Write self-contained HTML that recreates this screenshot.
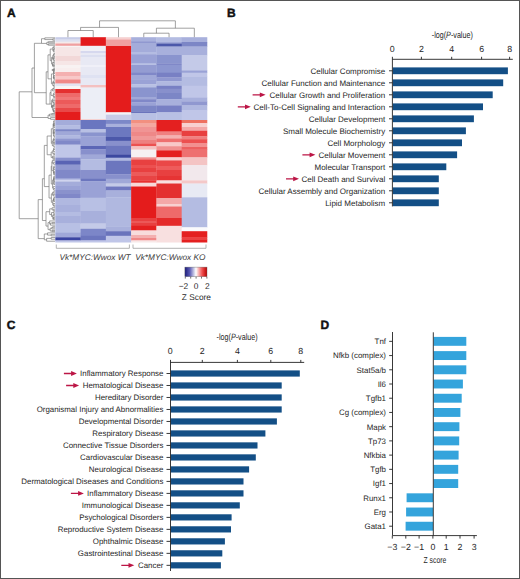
<!DOCTYPE html>
<html><head><meta charset="utf-8"><style>
html,body{margin:0;padding:0;background:#fff;}
body{width:520px;height:579px;overflow:hidden;position:relative;}
svg{position:absolute;left:0;top:0;font-family:'Liberation Sans', sans-serif;}
text{stroke:none;text-rendering:geometricPrecision;}
.frame{position:absolute;left:0;top:0;width:518px;height:577px;border:1px solid #555;}
</style></head><body>
<svg width="520" height="579" viewBox="0 0 520 579">
<g>
<rect x="55.30" y="37.20" width="25.58" height="2.60" fill="#c8cde8"/>
<rect x="55.30" y="39.50" width="25.58" height="2.50" fill="#dde0f0"/>
<rect x="55.30" y="41.70" width="25.58" height="2.10" fill="#f4eaea"/>
<rect x="55.30" y="43.50" width="25.58" height="2.60" fill="#f0a0a0"/>
<rect x="55.30" y="45.80" width="25.58" height="1.50" fill="#f8f4f4"/>
<rect x="55.30" y="47.00" width="25.58" height="9.30" fill="#f6e6e6"/>
<rect x="55.30" y="56.00" width="25.58" height="5.30" fill="#f2d8d8"/>
<rect x="55.30" y="61.00" width="25.58" height="4.30" fill="#f6e6e6"/>
<rect x="55.30" y="65.00" width="25.58" height="3.30" fill="#f8f2f2"/>
<rect x="55.30" y="68.00" width="25.58" height="4.30" fill="#f8eeee"/>
<rect x="55.30" y="72.00" width="25.58" height="4.30" fill="#f4b0b0"/>
<rect x="55.30" y="76.00" width="25.58" height="3.80" fill="#f8c8c8"/>
<rect x="55.30" y="79.50" width="25.58" height="4.30" fill="#f08888"/>
<rect x="55.30" y="83.50" width="25.58" height="3.00" fill="#e4e4f2"/>
<rect x="55.30" y="86.20" width="25.58" height="3.10" fill="#faf4f4"/>
<rect x="55.30" y="89.00" width="25.58" height="4.30" fill="#e43030"/>
<rect x="55.30" y="93.00" width="25.58" height="4.30" fill="#ee6a6a"/>
<rect x="55.30" y="97.00" width="25.58" height="3.30" fill="#f07878"/>
<rect x="55.30" y="100.00" width="25.58" height="4.30" fill="#ec5a5a"/>
<rect x="55.30" y="104.00" width="25.58" height="4.30" fill="#ee6a6a"/>
<rect x="55.30" y="108.00" width="25.58" height="4.30" fill="#e84848"/>
<rect x="55.30" y="112.00" width="25.58" height="8.30" fill="#e41c1c"/>
<rect x="55.30" y="120.00" width="25.58" height="5.70" fill="#a4acda"/>
<rect x="55.30" y="125.40" width="25.58" height="4.10" fill="#b4bce2"/>
<rect x="55.30" y="129.20" width="25.58" height="2.60" fill="#7c86c6"/>
<rect x="55.30" y="131.50" width="25.58" height="4.20" fill="#a0a8d8"/>
<rect x="55.30" y="135.40" width="25.58" height="3.40" fill="#b0b8e0"/>
<rect x="55.30" y="138.50" width="25.58" height="2.60" fill="#9098d0"/>
<rect x="55.30" y="140.80" width="25.58" height="4.10" fill="#8088c8"/>
<rect x="55.30" y="144.60" width="25.58" height="13.40" fill="#c0c6e8"/>
<rect x="55.30" y="157.70" width="25.58" height="3.40" fill="#8890cc"/>
<rect x="55.30" y="160.80" width="25.58" height="4.10" fill="#5a64b4"/>
<rect x="55.30" y="164.60" width="25.58" height="5.30" fill="#9098d0"/>
<rect x="55.30" y="169.60" width="25.58" height="8.70" fill="#8088c8"/>
<rect x="55.30" y="178.00" width="25.58" height="1.90" fill="#9aa2d6"/>
<rect x="55.30" y="179.60" width="25.58" height="2.30" fill="#d0d4ee"/>
<rect x="55.30" y="181.60" width="25.58" height="4.70" fill="#a4acda"/>
<rect x="55.30" y="186.00" width="25.58" height="4.30" fill="#9aa2d6"/>
<rect x="55.30" y="190.00" width="25.58" height="4.30" fill="#8a92cc"/>
<rect x="55.30" y="194.00" width="25.58" height="4.00" fill="#8088c8"/>
<rect x="55.30" y="198.00" width="25.58" height="7.30" fill="#b0b8e0"/>
<rect x="55.30" y="205.00" width="25.58" height="7.30" fill="#a8b0dc"/>
<rect x="55.30" y="212.00" width="25.58" height="4.30" fill="#b4bce2"/>
<rect x="55.30" y="216.00" width="25.58" height="7.80" fill="#a8b0dc"/>
<rect x="55.30" y="223.50" width="25.58" height="9.50" fill="#b8c0e4"/>
<rect x="55.30" y="232.70" width="25.58" height="4.90" fill="#a0a8d8"/>
<rect x="55.30" y="237.30" width="25.58" height="3.40" fill="#3c46a2"/>
<rect x="55.30" y="240.40" width="25.58" height="2.10" fill="#c0c6e8"/>
<rect x="80.58" y="37.20" width="25.58" height="8.90" fill="#e31a1c"/>
<rect x="80.58" y="45.80" width="25.58" height="5.50" fill="#f0f0f6"/>
<rect x="80.58" y="51.00" width="25.58" height="2.30" fill="#d6d8ee"/>
<rect x="80.58" y="53.00" width="25.58" height="2.30" fill="#e8e9f4"/>
<rect x="80.58" y="55.00" width="25.58" height="2.30" fill="#dcdff0"/>
<rect x="80.58" y="57.00" width="25.58" height="8.30" fill="#e8e9f4"/>
<rect x="80.58" y="65.00" width="25.58" height="2.30" fill="#f0f0f8"/>
<rect x="80.58" y="67.00" width="25.58" height="8.30" fill="#e8e9f4"/>
<rect x="80.58" y="75.00" width="25.58" height="3.30" fill="#dfe2f2"/>
<rect x="80.58" y="78.00" width="25.58" height="7.30" fill="#e8e9f4"/>
<rect x="80.58" y="85.00" width="25.58" height="2.80" fill="#f4c0c0"/>
<rect x="80.58" y="87.50" width="25.58" height="31.80" fill="#eceef6"/>
<rect x="80.58" y="119.00" width="25.58" height="1.30" fill="#f4d0d0"/>
<rect x="80.58" y="120.00" width="25.58" height="9.50" fill="#6a76c0"/>
<rect x="80.58" y="129.20" width="25.58" height="3.40" fill="#b8c0e4"/>
<rect x="80.58" y="132.30" width="25.58" height="4.20" fill="#8a94ce"/>
<rect x="80.58" y="136.20" width="25.58" height="10.10" fill="#9aa2d6"/>
<rect x="80.58" y="146.00" width="25.58" height="3.50" fill="#5c66b6"/>
<rect x="80.58" y="149.20" width="25.58" height="5.70" fill="#8890cc"/>
<rect x="80.58" y="154.60" width="25.58" height="4.90" fill="#a0a8d8"/>
<rect x="80.58" y="159.20" width="25.58" height="11.10" fill="#b4bce2"/>
<rect x="80.58" y="170.00" width="25.58" height="9.10" fill="#8890cc"/>
<rect x="80.58" y="178.80" width="25.58" height="2.70" fill="#6c76be"/>
<rect x="80.58" y="181.20" width="25.58" height="16.80" fill="#9aa2d6"/>
<rect x="80.58" y="197.70" width="25.58" height="13.60" fill="#b8c0e4"/>
<rect x="80.58" y="211.00" width="25.58" height="12.80" fill="#a8b0dc"/>
<rect x="80.58" y="223.50" width="25.58" height="5.60" fill="#c4cae8"/>
<rect x="80.58" y="228.80" width="25.58" height="7.30" fill="#7c86c8"/>
<rect x="80.58" y="235.80" width="25.58" height="4.90" fill="#6c76be"/>
<rect x="80.58" y="240.40" width="25.58" height="2.10" fill="#c0c6e8"/>
<rect x="105.86" y="37.20" width="25.58" height="2.60" fill="#f6d0d0"/>
<rect x="105.86" y="39.50" width="25.58" height="6.80" fill="#f0a0a0"/>
<rect x="105.86" y="46.00" width="25.58" height="66.60" fill="#e41c1c"/>
<rect x="105.86" y="112.30" width="25.58" height="2.60" fill="#f4f4f8"/>
<rect x="105.86" y="114.60" width="25.58" height="5.70" fill="#c8cce8"/>
<rect x="105.86" y="120.00" width="25.58" height="4.10" fill="#7c88c8"/>
<rect x="105.86" y="123.80" width="25.58" height="3.50" fill="#a8b0dc"/>
<rect x="105.86" y="127.00" width="25.58" height="10.30" fill="#6c78c0"/>
<rect x="105.86" y="137.00" width="25.58" height="4.10" fill="#4c58aa"/>
<rect x="105.86" y="140.80" width="25.58" height="4.90" fill="#8890cc"/>
<rect x="105.86" y="145.40" width="25.58" height="9.50" fill="#6c76be"/>
<rect x="105.86" y="154.60" width="25.58" height="3.40" fill="#3c48a0"/>
<rect x="105.86" y="157.70" width="25.58" height="3.40" fill="#b0b8e0"/>
<rect x="105.86" y="160.80" width="25.58" height="13.70" fill="#6c76be"/>
<rect x="105.86" y="174.20" width="25.58" height="4.90" fill="#8890cc"/>
<rect x="105.86" y="178.80" width="25.58" height="5.00" fill="#a0a8d8"/>
<rect x="105.86" y="183.50" width="25.58" height="3.30" fill="#c4cae8"/>
<rect x="105.86" y="186.50" width="25.58" height="4.20" fill="#7078c0"/>
<rect x="105.86" y="190.40" width="25.58" height="7.20" fill="#a8b0dc"/>
<rect x="105.86" y="197.30" width="25.58" height="29.50" fill="#b0b8e0"/>
<rect x="105.86" y="226.50" width="25.58" height="5.00" fill="#a8b0dc"/>
<rect x="105.86" y="231.20" width="25.58" height="4.90" fill="#6a74bc"/>
<rect x="105.86" y="235.80" width="25.58" height="6.70" fill="#c0c6e8"/>
<rect x="131.14" y="37.20" width="25.58" height="4.30" fill="#a8b0dc"/>
<rect x="131.14" y="41.20" width="25.58" height="2.60" fill="#9098d0"/>
<rect x="131.14" y="43.50" width="25.58" height="8.80" fill="#a4acda"/>
<rect x="131.14" y="52.00" width="25.58" height="2.50" fill="#b4bce2"/>
<rect x="131.14" y="54.20" width="25.58" height="9.60" fill="#9aa2d6"/>
<rect x="131.14" y="63.50" width="25.58" height="1.80" fill="#b8c0e4"/>
<rect x="131.14" y="65.00" width="25.58" height="8.00" fill="#949cd2"/>
<rect x="131.14" y="72.70" width="25.58" height="2.60" fill="#8088c8"/>
<rect x="131.14" y="75.00" width="25.58" height="4.90" fill="#a0a8d8"/>
<rect x="131.14" y="79.60" width="25.58" height="4.90" fill="#9aa2d6"/>
<rect x="131.14" y="84.20" width="25.58" height="3.40" fill="#b8c0e4"/>
<rect x="131.14" y="87.30" width="25.58" height="6.00" fill="#8a94ce"/>
<rect x="131.14" y="93.00" width="25.58" height="4.30" fill="#8a94ce"/>
<rect x="131.14" y="97.00" width="25.58" height="2.50" fill="#a0a8d8"/>
<rect x="131.14" y="99.20" width="25.58" height="3.40" fill="#8088c8"/>
<rect x="131.14" y="102.30" width="25.58" height="3.40" fill="#9aa2d6"/>
<rect x="131.14" y="105.40" width="25.58" height="6.40" fill="#7c86c6"/>
<rect x="131.14" y="111.50" width="25.58" height="1.80" fill="#6a74bc"/>
<rect x="131.14" y="113.00" width="25.58" height="7.30" fill="#b8c0e4"/>
<rect x="131.14" y="120.00" width="25.58" height="3.30" fill="#f29080"/>
<rect x="131.14" y="123.00" width="25.58" height="4.30" fill="#f4a8a0"/>
<rect x="131.14" y="127.00" width="25.58" height="5.30" fill="#f09494"/>
<rect x="131.14" y="132.00" width="25.58" height="4.30" fill="#ee8888"/>
<rect x="131.14" y="136.00" width="25.58" height="4.30" fill="#f09898"/>
<rect x="131.14" y="140.00" width="25.58" height="4.10" fill="#ee8080"/>
<rect x="131.14" y="143.80" width="25.58" height="2.70" fill="#ec5050"/>
<rect x="131.14" y="146.20" width="25.58" height="3.70" fill="#f6c0c0"/>
<rect x="131.14" y="149.60" width="25.58" height="8.00" fill="#f6f0f2"/>
<rect x="131.14" y="157.30" width="25.58" height="2.60" fill="#f09090"/>
<rect x="131.14" y="159.60" width="25.58" height="5.70" fill="#e84040"/>
<rect x="131.14" y="165.00" width="25.58" height="3.30" fill="#ec5050"/>
<rect x="131.14" y="168.00" width="25.58" height="4.30" fill="#e84040"/>
<rect x="131.14" y="172.00" width="25.58" height="4.30" fill="#ec5a5a"/>
<rect x="131.14" y="176.00" width="25.58" height="4.70" fill="#e84444"/>
<rect x="131.14" y="180.40" width="25.58" height="2.60" fill="#e83030"/>
<rect x="131.14" y="182.70" width="25.58" height="4.10" fill="#f8d8d8"/>
<rect x="131.14" y="186.50" width="25.58" height="31.80" fill="#e41c1c"/>
<rect x="131.14" y="218.00" width="25.58" height="3.30" fill="#e84040"/>
<rect x="131.14" y="221.00" width="25.58" height="2.30" fill="#ec5858"/>
<rect x="131.14" y="223.00" width="25.58" height="3.10" fill="#e84040"/>
<rect x="131.14" y="225.80" width="25.58" height="4.90" fill="#e42020"/>
<rect x="131.14" y="230.40" width="25.58" height="4.90" fill="#f8dcdc"/>
<rect x="131.14" y="235.00" width="25.58" height="3.30" fill="#f4b0b0"/>
<rect x="131.14" y="238.00" width="25.58" height="2.70" fill="#f08888"/>
<rect x="131.14" y="240.40" width="25.58" height="2.10" fill="#f8e8e8"/>
<rect x="156.42" y="37.20" width="25.58" height="5.10" fill="#b4bce2"/>
<rect x="156.42" y="42.00" width="25.58" height="1.80" fill="#a0a8d8"/>
<rect x="156.42" y="43.50" width="25.58" height="3.30" fill="#4c58aa"/>
<rect x="156.42" y="46.50" width="25.58" height="8.80" fill="#a8b0dc"/>
<rect x="156.42" y="55.00" width="25.58" height="8.80" fill="#8a94ce"/>
<rect x="156.42" y="63.50" width="25.58" height="1.80" fill="#8088c8"/>
<rect x="156.42" y="65.00" width="25.58" height="8.00" fill="#8c96d0"/>
<rect x="156.42" y="72.70" width="25.58" height="4.90" fill="#7880c4"/>
<rect x="156.42" y="77.30" width="25.58" height="4.20" fill="#9098d0"/>
<rect x="156.42" y="81.20" width="25.58" height="4.90" fill="#b0b8e0"/>
<rect x="156.42" y="85.80" width="25.58" height="3.30" fill="#7880c4"/>
<rect x="156.42" y="88.80" width="25.58" height="4.50" fill="#8890cc"/>
<rect x="156.42" y="93.00" width="25.58" height="6.50" fill="#7c86c6"/>
<rect x="156.42" y="99.20" width="25.58" height="6.50" fill="#a8b0dc"/>
<rect x="156.42" y="105.40" width="25.58" height="7.20" fill="#7880c4"/>
<rect x="156.42" y="112.30" width="25.58" height="8.00" fill="#b8c0e4"/>
<rect x="156.42" y="120.00" width="25.58" height="11.80" fill="#e42020"/>
<rect x="156.42" y="131.50" width="25.58" height="4.20" fill="#f08080"/>
<rect x="156.42" y="135.40" width="25.58" height="3.40" fill="#f4b0b0"/>
<rect x="156.42" y="138.50" width="25.58" height="4.10" fill="#ee7070"/>
<rect x="156.42" y="142.30" width="25.58" height="4.20" fill="#f8c8c8"/>
<rect x="156.42" y="146.20" width="25.58" height="4.50" fill="#f09090"/>
<rect x="156.42" y="150.40" width="25.58" height="7.20" fill="#e42020"/>
<rect x="156.42" y="157.30" width="25.58" height="3.40" fill="#f8d0d0"/>
<rect x="156.42" y="160.40" width="25.58" height="5.90" fill="#ea4848"/>
<rect x="156.42" y="166.00" width="25.58" height="4.30" fill="#ee5c5c"/>
<rect x="156.42" y="170.00" width="25.58" height="6.30" fill="#e84040"/>
<rect x="156.42" y="176.00" width="25.58" height="4.70" fill="#e63434"/>
<rect x="156.42" y="180.40" width="25.58" height="3.40" fill="#f8e0e0"/>
<rect x="156.42" y="183.50" width="25.58" height="14.80" fill="#e43030"/>
<rect x="156.42" y="198.00" width="25.58" height="6.50" fill="#f4a8a8"/>
<rect x="156.42" y="204.20" width="25.58" height="2.60" fill="#f8d0d0"/>
<rect x="156.42" y="206.50" width="25.58" height="11.80" fill="#ee6a6a"/>
<rect x="156.42" y="218.00" width="25.58" height="8.10" fill="#e42a2a"/>
<rect x="156.42" y="225.80" width="25.58" height="16.70" fill="#f8e0e0"/>
<rect x="181.70" y="37.20" width="25.58" height="5.10" fill="#a8b0dc"/>
<rect x="181.70" y="42.00" width="25.58" height="4.80" fill="#7c86c6"/>
<rect x="181.70" y="46.50" width="25.58" height="8.80" fill="#a8b0dc"/>
<rect x="181.70" y="55.00" width="25.58" height="15.70" fill="#c4cae8"/>
<rect x="181.70" y="70.40" width="25.58" height="2.60" fill="#9aa2d6"/>
<rect x="181.70" y="72.70" width="25.58" height="4.10" fill="#c0c6e8"/>
<rect x="181.70" y="76.50" width="25.58" height="9.60" fill="#b4bce2"/>
<rect x="181.70" y="85.80" width="25.58" height="12.20" fill="#c0c6e8"/>
<rect x="181.70" y="97.70" width="25.58" height="4.10" fill="#a8b0dc"/>
<rect x="181.70" y="101.50" width="25.58" height="4.20" fill="#9098d0"/>
<rect x="181.70" y="105.40" width="25.58" height="4.90" fill="#b0b8e0"/>
<rect x="181.70" y="110.00" width="25.58" height="10.30" fill="#c0c6e8"/>
<rect x="181.70" y="120.00" width="25.58" height="3.30" fill="#ee7060"/>
<rect x="181.70" y="123.00" width="25.58" height="4.30" fill="#f8d0d0"/>
<rect x="181.70" y="127.00" width="25.58" height="4.10" fill="#f4a8a8"/>
<rect x="181.70" y="130.80" width="25.58" height="5.70" fill="#e84040"/>
<rect x="181.70" y="136.20" width="25.58" height="3.30" fill="#f08080"/>
<rect x="181.70" y="139.20" width="25.58" height="4.10" fill="#ec5050"/>
<rect x="181.70" y="143.00" width="25.58" height="4.30" fill="#f29090"/>
<rect x="181.70" y="147.00" width="25.58" height="2.90" fill="#ec6060"/>
<rect x="181.70" y="149.60" width="25.58" height="8.00" fill="#ee7070"/>
<rect x="181.70" y="157.30" width="25.58" height="8.00" fill="#f4c4c4"/>
<rect x="181.70" y="165.00" width="25.58" height="15.70" fill="#f2e8ec"/>
<rect x="181.70" y="180.40" width="25.58" height="3.40" fill="#f4c8c8"/>
<rect x="181.70" y="183.50" width="25.58" height="14.10" fill="#e8eaf4"/>
<rect x="181.70" y="197.30" width="25.58" height="30.30" fill="#b4bce2"/>
<rect x="181.70" y="227.30" width="25.58" height="4.20" fill="#fafafc"/>
<rect x="181.70" y="231.20" width="25.58" height="6.60" fill="#e42020"/>
<rect x="181.70" y="237.50" width="25.58" height="2.30" fill="#ee4040"/>
<rect x="181.70" y="239.50" width="25.58" height="3.00" fill="#e42020"/>
</g>
<g stroke="#7a7a7a" stroke-width="0.7" fill="none">
<line x1="67.94" y1="37.20" x2="67.94" y2="30.50"/>
<line x1="93.22" y1="37.20" x2="93.22" y2="30.50"/>
<line x1="67.94" y1="30.50" x2="93.22" y2="30.50"/>
<line x1="80.58" y1="30.50" x2="80.58" y2="27.40"/>
<line x1="118.50" y1="37.20" x2="118.50" y2="27.40"/>
<line x1="80.58" y1="27.40" x2="118.50" y2="27.40"/>
<line x1="99.54" y1="27.40" x2="99.54" y2="20.80"/>
<line x1="143.78" y1="37.20" x2="143.78" y2="33.20"/>
<line x1="169.06" y1="37.20" x2="169.06" y2="33.20"/>
<line x1="143.78" y1="33.20" x2="169.06" y2="33.20"/>
<line x1="156.42" y1="33.20" x2="156.42" y2="28.20"/>
<line x1="194.34" y1="37.20" x2="194.34" y2="28.20"/>
<line x1="156.42" y1="28.20" x2="194.34" y2="28.20"/>
<line x1="175.38" y1="28.20" x2="175.38" y2="20.80"/>
<line x1="99.54" y1="20.80" x2="175.38" y2="20.80"/>
<line x1="52.77" y1="38.92" x2="52.77" y2="40.24"/>
<line x1="52.77" y1="38.92" x2="55.00" y2="38.92"/>
<line x1="52.77" y1="40.24" x2="55.00" y2="40.24"/>
<line x1="44.81" y1="37.85" x2="44.81" y2="39.58"/>
<line x1="44.81" y1="37.85" x2="55.00" y2="37.85"/>
<line x1="44.81" y1="39.58" x2="52.77" y2="39.58"/>
<line x1="48.32" y1="41.68" x2="48.32" y2="42.83"/>
<line x1="48.32" y1="41.68" x2="55.00" y2="41.68"/>
<line x1="48.32" y1="42.83" x2="55.00" y2="42.83"/>
<line x1="48.39" y1="43.94" x2="48.39" y2="45.22"/>
<line x1="48.39" y1="43.94" x2="55.00" y2="43.94"/>
<line x1="48.39" y1="45.22" x2="55.00" y2="45.22"/>
<line x1="46.84" y1="42.25" x2="46.84" y2="44.58"/>
<line x1="46.84" y1="42.25" x2="48.32" y2="42.25"/>
<line x1="46.84" y1="44.58" x2="48.39" y2="44.58"/>
<line x1="41.50" y1="38.71" x2="41.50" y2="43.41"/>
<line x1="41.50" y1="38.71" x2="44.81" y2="38.71"/>
<line x1="41.50" y1="43.41" x2="46.84" y2="43.41"/>
<line x1="53.24" y1="46.77" x2="53.24" y2="47.99"/>
<line x1="53.24" y1="46.77" x2="55.00" y2="46.77"/>
<line x1="53.24" y1="47.99" x2="55.00" y2="47.99"/>
<line x1="53.80" y1="48.84" x2="53.80" y2="50.06"/>
<line x1="53.80" y1="48.84" x2="55.00" y2="48.84"/>
<line x1="53.80" y1="50.06" x2="55.00" y2="50.06"/>
<line x1="53.43" y1="49.45" x2="53.43" y2="51.86"/>
<line x1="53.43" y1="49.45" x2="53.80" y2="49.45"/>
<line x1="53.43" y1="51.86" x2="55.00" y2="51.86"/>
<line x1="52.79" y1="47.38" x2="52.79" y2="50.65"/>
<line x1="52.79" y1="47.38" x2="53.24" y2="47.38"/>
<line x1="52.79" y1="50.65" x2="53.43" y2="50.65"/>
<line x1="53.80" y1="53.57" x2="53.80" y2="54.94"/>
<line x1="53.80" y1="53.57" x2="55.00" y2="53.57"/>
<line x1="53.80" y1="54.94" x2="55.00" y2="54.94"/>
<line x1="53.54" y1="54.25" x2="53.54" y2="56.45"/>
<line x1="53.54" y1="54.25" x2="53.80" y2="54.25"/>
<line x1="53.54" y1="56.45" x2="55.00" y2="56.45"/>
<line x1="52.92" y1="57.70" x2="52.92" y2="58.85"/>
<line x1="52.92" y1="57.70" x2="55.00" y2="57.70"/>
<line x1="52.92" y1="58.85" x2="55.00" y2="58.85"/>
<line x1="53.39" y1="58.28" x2="53.39" y2="60.40"/>
<line x1="53.39" y1="58.28" x2="52.92" y2="58.28"/>
<line x1="53.39" y1="60.40" x2="55.00" y2="60.40"/>
<line x1="52.74" y1="55.35" x2="52.74" y2="59.34"/>
<line x1="52.74" y1="55.35" x2="53.54" y2="55.35"/>
<line x1="52.74" y1="59.34" x2="53.39" y2="59.34"/>
<line x1="53.47" y1="61.84" x2="53.47" y2="62.96"/>
<line x1="53.47" y1="61.84" x2="55.00" y2="61.84"/>
<line x1="53.47" y1="62.96" x2="55.00" y2="62.96"/>
<line x1="52.87" y1="64.15" x2="52.87" y2="65.45"/>
<line x1="52.87" y1="64.15" x2="55.00" y2="64.15"/>
<line x1="52.87" y1="65.45" x2="55.00" y2="65.45"/>
<line x1="52.98" y1="64.80" x2="52.98" y2="66.75"/>
<line x1="52.98" y1="64.80" x2="52.87" y2="64.80"/>
<line x1="52.98" y1="66.75" x2="55.00" y2="66.75"/>
<line x1="52.57" y1="62.40" x2="52.57" y2="65.77"/>
<line x1="52.57" y1="62.40" x2="53.47" y2="62.40"/>
<line x1="52.57" y1="65.77" x2="52.98" y2="65.77"/>
<line x1="51.57" y1="57.35" x2="51.57" y2="64.09"/>
<line x1="51.57" y1="57.35" x2="52.74" y2="57.35"/>
<line x1="51.57" y1="64.09" x2="52.57" y2="64.09"/>
<line x1="50.23" y1="49.02" x2="50.23" y2="60.72"/>
<line x1="50.23" y1="49.02" x2="52.79" y2="49.02"/>
<line x1="50.23" y1="60.72" x2="51.57" y2="60.72"/>
<line x1="52.16" y1="69.43" x2="52.16" y2="70.58"/>
<line x1="52.16" y1="69.43" x2="55.00" y2="69.43"/>
<line x1="52.16" y1="70.58" x2="55.00" y2="70.58"/>
<line x1="53.80" y1="68.26" x2="53.80" y2="70.01"/>
<line x1="53.80" y1="68.26" x2="55.00" y2="68.26"/>
<line x1="53.80" y1="70.01" x2="52.16" y2="70.01"/>
<line x1="53.80" y1="71.92" x2="53.80" y2="73.47"/>
<line x1="53.80" y1="71.92" x2="55.00" y2="71.92"/>
<line x1="53.80" y1="73.47" x2="55.00" y2="73.47"/>
<line x1="53.76" y1="69.13" x2="53.76" y2="72.69"/>
<line x1="53.76" y1="69.13" x2="53.80" y2="69.13"/>
<line x1="53.76" y1="72.69" x2="53.80" y2="72.69"/>
<line x1="53.34" y1="76.97" x2="53.34" y2="78.11"/>
<line x1="53.34" y1="76.97" x2="55.00" y2="76.97"/>
<line x1="53.34" y1="78.11" x2="55.00" y2="78.11"/>
<line x1="53.80" y1="77.54" x2="53.80" y2="79.27"/>
<line x1="53.80" y1="77.54" x2="53.34" y2="77.54"/>
<line x1="53.80" y1="79.27" x2="55.00" y2="79.27"/>
<line x1="53.80" y1="75.43" x2="53.80" y2="78.40"/>
<line x1="53.80" y1="75.43" x2="55.00" y2="75.43"/>
<line x1="53.80" y1="78.40" x2="53.80" y2="78.40"/>
<line x1="53.49" y1="70.91" x2="53.49" y2="76.92"/>
<line x1="53.49" y1="70.91" x2="53.76" y2="70.91"/>
<line x1="53.49" y1="76.92" x2="53.80" y2="76.92"/>
<line x1="53.80" y1="82.38" x2="53.80" y2="83.66"/>
<line x1="53.80" y1="82.38" x2="55.00" y2="82.38"/>
<line x1="53.80" y1="83.66" x2="55.00" y2="83.66"/>
<line x1="53.36" y1="80.90" x2="53.36" y2="83.02"/>
<line x1="53.36" y1="80.90" x2="55.00" y2="80.90"/>
<line x1="53.36" y1="83.02" x2="53.80" y2="83.02"/>
<line x1="53.50" y1="84.97" x2="53.50" y2="86.23"/>
<line x1="53.50" y1="84.97" x2="55.00" y2="84.97"/>
<line x1="53.50" y1="86.23" x2="55.00" y2="86.23"/>
<line x1="52.74" y1="81.96" x2="52.74" y2="85.60"/>
<line x1="52.74" y1="81.96" x2="53.36" y2="81.96"/>
<line x1="52.74" y1="85.60" x2="53.50" y2="85.60"/>
<line x1="51.45" y1="73.92" x2="51.45" y2="83.78"/>
<line x1="51.45" y1="73.92" x2="53.49" y2="73.92"/>
<line x1="51.45" y1="83.78" x2="52.74" y2="83.78"/>
<line x1="48.00" y1="54.87" x2="48.00" y2="78.85"/>
<line x1="48.00" y1="54.87" x2="50.23" y2="54.87"/>
<line x1="48.00" y1="78.85" x2="51.45" y2="78.85"/>
<line x1="53.53" y1="87.82" x2="53.53" y2="89.26"/>
<line x1="53.53" y1="87.82" x2="55.00" y2="87.82"/>
<line x1="53.53" y1="89.26" x2="55.00" y2="89.26"/>
<line x1="52.62" y1="88.54" x2="52.62" y2="90.93"/>
<line x1="52.62" y1="88.54" x2="53.53" y2="88.54"/>
<line x1="52.62" y1="90.93" x2="55.00" y2="90.93"/>
<line x1="53.80" y1="92.85" x2="53.80" y2="94.74"/>
<line x1="53.80" y1="92.85" x2="55.00" y2="92.85"/>
<line x1="53.80" y1="94.74" x2="55.00" y2="94.74"/>
<line x1="53.80" y1="96.42" x2="53.80" y2="97.62"/>
<line x1="53.80" y1="96.42" x2="55.00" y2="96.42"/>
<line x1="53.80" y1="97.62" x2="55.00" y2="97.62"/>
<line x1="53.32" y1="93.79" x2="53.32" y2="97.02"/>
<line x1="53.32" y1="93.79" x2="53.80" y2="93.79"/>
<line x1="53.32" y1="97.02" x2="53.80" y2="97.02"/>
<line x1="51.01" y1="89.74" x2="51.01" y2="95.41"/>
<line x1="51.01" y1="89.74" x2="52.62" y2="89.74"/>
<line x1="51.01" y1="95.41" x2="53.32" y2="95.41"/>
<line x1="53.45" y1="102.12" x2="53.45" y2="103.40"/>
<line x1="53.45" y1="102.12" x2="55.00" y2="102.12"/>
<line x1="53.45" y1="103.40" x2="55.00" y2="103.40"/>
<line x1="52.95" y1="100.64" x2="52.95" y2="102.76"/>
<line x1="52.95" y1="100.64" x2="55.00" y2="100.64"/>
<line x1="52.95" y1="102.76" x2="53.45" y2="102.76"/>
<line x1="52.38" y1="99.06" x2="52.38" y2="101.70"/>
<line x1="52.38" y1="99.06" x2="55.00" y2="99.06"/>
<line x1="52.38" y1="101.70" x2="52.95" y2="101.70"/>
<line x1="51.51" y1="105.71" x2="51.51" y2="106.90"/>
<line x1="51.51" y1="105.71" x2="55.00" y2="105.71"/>
<line x1="51.51" y1="106.90" x2="55.00" y2="106.90"/>
<line x1="53.37" y1="104.49" x2="53.37" y2="106.30"/>
<line x1="53.37" y1="104.49" x2="55.00" y2="104.49"/>
<line x1="53.37" y1="106.30" x2="51.51" y2="106.30"/>
<line x1="53.18" y1="110.16" x2="53.18" y2="111.30"/>
<line x1="53.18" y1="110.16" x2="55.00" y2="110.16"/>
<line x1="53.18" y1="111.30" x2="55.00" y2="111.30"/>
<line x1="53.80" y1="110.73" x2="53.80" y2="112.33"/>
<line x1="53.80" y1="110.73" x2="53.18" y2="110.73"/>
<line x1="53.80" y1="112.33" x2="55.00" y2="112.33"/>
<line x1="53.39" y1="108.45" x2="53.39" y2="111.53"/>
<line x1="53.39" y1="108.45" x2="55.00" y2="108.45"/>
<line x1="53.39" y1="111.53" x2="53.80" y2="111.53"/>
<line x1="52.65" y1="105.39" x2="52.65" y2="109.99"/>
<line x1="52.65" y1="105.39" x2="53.37" y2="105.39"/>
<line x1="52.65" y1="109.99" x2="53.39" y2="109.99"/>
<line x1="51.63" y1="100.38" x2="51.63" y2="107.69"/>
<line x1="51.63" y1="100.38" x2="52.38" y2="100.38"/>
<line x1="51.63" y1="107.69" x2="52.65" y2="107.69"/>
<line x1="50.00" y1="92.57" x2="50.00" y2="104.10"/>
<line x1="50.00" y1="92.57" x2="51.01" y2="92.57"/>
<line x1="50.00" y1="104.04" x2="51.63" y2="104.04"/>
<line x1="46.20" y1="71.80" x2="46.20" y2="104.10"/>
<line x1="46.20" y1="71.80" x2="48.00" y2="71.80"/>
<line x1="46.20" y1="104.10" x2="50.00" y2="104.10"/>
<line x1="51.77" y1="113.50" x2="51.77" y2="114.74"/>
<line x1="51.77" y1="113.50" x2="55.00" y2="113.50"/>
<line x1="51.77" y1="114.74" x2="55.00" y2="114.74"/>
<line x1="49.54" y1="114.12" x2="49.54" y2="116.04"/>
<line x1="49.54" y1="114.12" x2="51.77" y2="114.12"/>
<line x1="49.54" y1="116.04" x2="55.00" y2="116.04"/>
<line x1="50.57" y1="117.63" x2="50.57" y2="119.33"/>
<line x1="50.57" y1="117.63" x2="55.00" y2="117.63"/>
<line x1="50.57" y1="119.33" x2="55.00" y2="119.33"/>
<line x1="48.10" y1="115.08" x2="48.10" y2="118.48"/>
<line x1="48.10" y1="115.08" x2="49.54" y2="115.08"/>
<line x1="48.10" y1="118.48" x2="50.57" y2="118.48"/>
<line x1="34.40" y1="43.30" x2="34.40" y2="92.70"/>
<line x1="34.40" y1="43.30" x2="41.50" y2="43.30"/>
<line x1="34.40" y1="92.70" x2="46.20" y2="92.70"/>
<line x1="32.00" y1="68.00" x2="32.00" y2="117.50"/>
<line x1="32.00" y1="68.00" x2="34.40" y2="68.00"/>
<line x1="32.00" y1="117.50" x2="48.10" y2="117.50"/>
<line x1="53.80" y1="120.77" x2="53.80" y2="122.12"/>
<line x1="53.80" y1="120.77" x2="55.00" y2="120.77"/>
<line x1="53.80" y1="122.12" x2="55.00" y2="122.12"/>
<line x1="53.80" y1="124.89" x2="53.80" y2="126.00"/>
<line x1="53.80" y1="124.89" x2="55.00" y2="124.89"/>
<line x1="53.80" y1="126.00" x2="55.00" y2="126.00"/>
<line x1="53.80" y1="123.58" x2="53.80" y2="125.44"/>
<line x1="53.80" y1="123.58" x2="55.00" y2="123.58"/>
<line x1="53.80" y1="125.44" x2="53.80" y2="125.44"/>
<line x1="53.80" y1="124.51" x2="53.80" y2="127.66"/>
<line x1="53.80" y1="124.51" x2="53.80" y2="124.51"/>
<line x1="53.80" y1="127.66" x2="55.00" y2="127.66"/>
<line x1="53.70" y1="121.44" x2="53.70" y2="126.08"/>
<line x1="53.70" y1="121.44" x2="53.80" y2="121.44"/>
<line x1="53.70" y1="126.08" x2="53.80" y2="126.08"/>
<line x1="53.80" y1="129.50" x2="53.80" y2="131.05"/>
<line x1="53.80" y1="129.50" x2="55.00" y2="129.50"/>
<line x1="53.80" y1="131.05" x2="55.00" y2="131.05"/>
<line x1="53.80" y1="132.45" x2="53.80" y2="133.67"/>
<line x1="53.80" y1="132.45" x2="55.00" y2="132.45"/>
<line x1="53.80" y1="133.67" x2="55.00" y2="133.67"/>
<line x1="53.80" y1="130.27" x2="53.80" y2="133.06"/>
<line x1="53.80" y1="130.27" x2="53.80" y2="130.27"/>
<line x1="53.80" y1="133.06" x2="53.80" y2="133.06"/>
<line x1="53.80" y1="135.03" x2="53.80" y2="136.45"/>
<line x1="53.80" y1="135.03" x2="55.00" y2="135.03"/>
<line x1="53.80" y1="136.45" x2="55.00" y2="136.45"/>
<line x1="53.42" y1="131.67" x2="53.42" y2="135.74"/>
<line x1="53.42" y1="131.67" x2="53.80" y2="131.67"/>
<line x1="53.42" y1="135.74" x2="53.80" y2="135.74"/>
<line x1="53.11" y1="123.76" x2="53.11" y2="133.71"/>
<line x1="53.11" y1="123.76" x2="53.70" y2="123.76"/>
<line x1="53.11" y1="133.71" x2="53.42" y2="133.71"/>
<line x1="53.80" y1="139.61" x2="53.80" y2="141.14"/>
<line x1="53.80" y1="139.61" x2="55.00" y2="139.61"/>
<line x1="53.80" y1="141.14" x2="55.00" y2="141.14"/>
<line x1="53.80" y1="137.83" x2="53.80" y2="140.38"/>
<line x1="53.80" y1="137.83" x2="55.00" y2="137.83"/>
<line x1="53.80" y1="140.38" x2="53.80" y2="140.38"/>
<line x1="53.58" y1="142.50" x2="53.58" y2="143.61"/>
<line x1="53.58" y1="142.50" x2="55.00" y2="142.50"/>
<line x1="53.58" y1="143.61" x2="55.00" y2="143.61"/>
<line x1="53.16" y1="139.10" x2="53.16" y2="143.06"/>
<line x1="53.16" y1="139.10" x2="53.80" y2="139.10"/>
<line x1="53.16" y1="143.06" x2="53.58" y2="143.06"/>
<line x1="53.17" y1="144.77" x2="53.17" y2="146.35"/>
<line x1="53.17" y1="144.77" x2="55.00" y2="144.77"/>
<line x1="53.17" y1="146.35" x2="55.00" y2="146.35"/>
<line x1="52.26" y1="141.08" x2="52.26" y2="145.56"/>
<line x1="52.26" y1="141.08" x2="53.16" y2="141.08"/>
<line x1="52.26" y1="145.56" x2="53.17" y2="145.56"/>
<line x1="51.34" y1="128.73" x2="51.34" y2="143.32"/>
<line x1="51.34" y1="128.73" x2="53.11" y2="128.73"/>
<line x1="51.34" y1="143.32" x2="52.26" y2="143.32"/>
<line x1="53.80" y1="147.83" x2="53.80" y2="149.58"/>
<line x1="53.80" y1="147.83" x2="55.00" y2="147.83"/>
<line x1="53.80" y1="149.58" x2="55.00" y2="149.58"/>
<line x1="53.60" y1="148.70" x2="53.60" y2="151.62"/>
<line x1="53.60" y1="148.70" x2="53.80" y2="148.70"/>
<line x1="53.60" y1="151.62" x2="55.00" y2="151.62"/>
<line x1="53.80" y1="153.19" x2="53.80" y2="154.53"/>
<line x1="53.80" y1="153.19" x2="55.00" y2="153.19"/>
<line x1="53.80" y1="154.53" x2="55.00" y2="154.53"/>
<line x1="52.87" y1="150.16" x2="52.87" y2="153.86"/>
<line x1="52.87" y1="150.16" x2="53.60" y2="150.16"/>
<line x1="52.87" y1="153.86" x2="53.80" y2="153.86"/>
<line x1="52.79" y1="155.99" x2="52.79" y2="157.23"/>
<line x1="52.79" y1="155.99" x2="55.00" y2="155.99"/>
<line x1="52.79" y1="157.23" x2="55.00" y2="157.23"/>
<line x1="52.66" y1="156.61" x2="52.66" y2="158.43"/>
<line x1="52.66" y1="156.61" x2="52.79" y2="156.61"/>
<line x1="52.66" y1="158.43" x2="55.00" y2="158.43"/>
<line x1="51.18" y1="152.01" x2="51.18" y2="157.52"/>
<line x1="51.18" y1="152.01" x2="52.87" y2="152.01"/>
<line x1="51.18" y1="157.52" x2="52.66" y2="157.52"/>
<line x1="47.16" y1="136.03" x2="47.16" y2="154.76"/>
<line x1="47.16" y1="136.03" x2="51.34" y2="136.03"/>
<line x1="47.16" y1="154.76" x2="51.18" y2="154.76"/>
<line x1="53.31" y1="159.64" x2="53.31" y2="160.76"/>
<line x1="53.31" y1="159.64" x2="55.00" y2="159.64"/>
<line x1="53.31" y1="160.76" x2="55.00" y2="160.76"/>
<line x1="53.61" y1="162.30" x2="53.61" y2="164.22"/>
<line x1="53.61" y1="162.30" x2="55.00" y2="162.30"/>
<line x1="53.61" y1="164.22" x2="55.00" y2="164.22"/>
<line x1="52.35" y1="160.20" x2="52.35" y2="163.26"/>
<line x1="52.35" y1="160.20" x2="53.31" y2="160.20"/>
<line x1="52.35" y1="163.26" x2="53.61" y2="163.26"/>
<line x1="53.80" y1="166.12" x2="53.80" y2="167.75"/>
<line x1="53.80" y1="166.12" x2="55.00" y2="166.12"/>
<line x1="53.80" y1="167.75" x2="55.00" y2="167.75"/>
<line x1="53.80" y1="166.93" x2="53.80" y2="169.44"/>
<line x1="53.80" y1="166.93" x2="53.80" y2="166.93"/>
<line x1="53.80" y1="169.44" x2="55.00" y2="169.44"/>
<line x1="53.80" y1="171.25" x2="53.80" y2="172.58"/>
<line x1="53.80" y1="171.25" x2="55.00" y2="171.25"/>
<line x1="53.80" y1="172.58" x2="55.00" y2="172.58"/>
<line x1="53.80" y1="173.68" x2="53.80" y2="174.78"/>
<line x1="53.80" y1="173.68" x2="55.00" y2="173.68"/>
<line x1="53.80" y1="174.78" x2="55.00" y2="174.78"/>
<line x1="53.80" y1="171.91" x2="53.80" y2="174.23"/>
<line x1="53.80" y1="171.91" x2="53.80" y2="171.91"/>
<line x1="53.80" y1="174.23" x2="53.80" y2="174.23"/>
<line x1="53.47" y1="168.19" x2="53.47" y2="173.07"/>
<line x1="53.47" y1="168.19" x2="53.80" y2="168.19"/>
<line x1="53.47" y1="173.07" x2="53.80" y2="173.07"/>
<line x1="51.87" y1="161.73" x2="51.87" y2="170.63"/>
<line x1="51.87" y1="161.73" x2="52.35" y2="161.73"/>
<line x1="51.87" y1="170.63" x2="53.47" y2="170.63"/>
<line x1="53.35" y1="179.04" x2="53.35" y2="180.19"/>
<line x1="53.35" y1="179.04" x2="55.00" y2="179.04"/>
<line x1="53.35" y1="180.19" x2="55.00" y2="180.19"/>
<line x1="53.80" y1="177.81" x2="53.80" y2="179.62"/>
<line x1="53.80" y1="177.81" x2="55.00" y2="177.81"/>
<line x1="53.80" y1="179.62" x2="53.35" y2="179.62"/>
<line x1="53.80" y1="176.30" x2="53.80" y2="178.71"/>
<line x1="53.80" y1="176.30" x2="55.00" y2="176.30"/>
<line x1="53.80" y1="178.71" x2="53.80" y2="178.71"/>
<line x1="53.80" y1="183.01" x2="53.80" y2="184.56"/>
<line x1="53.80" y1="183.01" x2="55.00" y2="183.01"/>
<line x1="53.80" y1="184.56" x2="55.00" y2="184.56"/>
<line x1="53.80" y1="181.57" x2="53.80" y2="183.78"/>
<line x1="53.80" y1="181.57" x2="55.00" y2="181.57"/>
<line x1="53.80" y1="183.78" x2="53.80" y2="183.78"/>
<line x1="53.80" y1="177.50" x2="53.80" y2="182.68"/>
<line x1="53.80" y1="177.50" x2="53.80" y2="177.50"/>
<line x1="53.80" y1="182.68" x2="53.80" y2="182.68"/>
<line x1="53.80" y1="188.51" x2="53.80" y2="190.19"/>
<line x1="53.80" y1="188.51" x2="55.00" y2="188.51"/>
<line x1="53.80" y1="190.19" x2="55.00" y2="190.19"/>
<line x1="53.22" y1="186.62" x2="53.22" y2="189.35"/>
<line x1="53.22" y1="186.62" x2="55.00" y2="186.62"/>
<line x1="53.22" y1="189.35" x2="53.80" y2="189.35"/>
<line x1="52.58" y1="180.09" x2="52.58" y2="187.99"/>
<line x1="52.58" y1="180.09" x2="53.80" y2="180.09"/>
<line x1="52.58" y1="187.99" x2="53.22" y2="187.99"/>
<line x1="51.28" y1="166.18" x2="51.28" y2="184.04"/>
<line x1="51.28" y1="166.18" x2="51.87" y2="166.18"/>
<line x1="51.28" y1="184.04" x2="52.58" y2="184.04"/>
<line x1="53.18" y1="191.78" x2="53.18" y2="193.05"/>
<line x1="53.18" y1="191.78" x2="55.00" y2="191.78"/>
<line x1="53.18" y1="193.05" x2="55.00" y2="193.05"/>
<line x1="53.31" y1="194.36" x2="53.31" y2="196.00"/>
<line x1="53.31" y1="194.36" x2="55.00" y2="194.36"/>
<line x1="53.31" y1="196.00" x2="55.00" y2="196.00"/>
<line x1="52.62" y1="192.42" x2="52.62" y2="195.18"/>
<line x1="52.62" y1="192.42" x2="53.18" y2="192.42"/>
<line x1="52.62" y1="195.18" x2="53.31" y2="195.18"/>
<line x1="53.42" y1="198.96" x2="53.42" y2="200.23"/>
<line x1="53.42" y1="198.96" x2="55.00" y2="198.96"/>
<line x1="53.42" y1="200.23" x2="55.00" y2="200.23"/>
<line x1="53.80" y1="197.52" x2="53.80" y2="199.60"/>
<line x1="53.80" y1="197.52" x2="55.00" y2="197.52"/>
<line x1="53.80" y1="199.60" x2="53.42" y2="199.60"/>
<line x1="53.61" y1="198.56" x2="53.61" y2="201.58"/>
<line x1="53.61" y1="198.56" x2="53.80" y2="198.56"/>
<line x1="53.61" y1="201.58" x2="55.00" y2="201.58"/>
<line x1="53.80" y1="205.06" x2="53.80" y2="206.28"/>
<line x1="53.80" y1="205.06" x2="55.00" y2="205.06"/>
<line x1="53.80" y1="206.28" x2="55.00" y2="206.28"/>
<line x1="53.15" y1="203.50" x2="53.15" y2="205.67"/>
<line x1="53.15" y1="203.50" x2="55.00" y2="203.50"/>
<line x1="53.15" y1="205.67" x2="53.80" y2="205.67"/>
<line x1="52.75" y1="200.07" x2="52.75" y2="204.59"/>
<line x1="52.75" y1="200.07" x2="53.61" y2="200.07"/>
<line x1="52.75" y1="204.59" x2="53.15" y2="204.59"/>
<line x1="51.36" y1="193.80" x2="51.36" y2="202.33"/>
<line x1="51.36" y1="193.80" x2="52.62" y2="193.80"/>
<line x1="51.36" y1="202.33" x2="52.75" y2="202.33"/>
<line x1="49.04" y1="175.11" x2="49.04" y2="198.06"/>
<line x1="49.04" y1="175.11" x2="51.28" y2="175.11"/>
<line x1="49.04" y1="198.06" x2="51.36" y2="198.06"/>
<line x1="44.30" y1="145.40" x2="44.30" y2="186.59"/>
<line x1="44.30" y1="145.40" x2="47.16" y2="145.40"/>
<line x1="44.30" y1="186.59" x2="49.04" y2="186.59"/>
<line x1="53.38" y1="209.26" x2="53.38" y2="210.67"/>
<line x1="53.38" y1="209.26" x2="55.00" y2="209.26"/>
<line x1="53.38" y1="210.67" x2="55.00" y2="210.67"/>
<line x1="52.13" y1="207.69" x2="52.13" y2="209.97"/>
<line x1="52.13" y1="207.69" x2="55.00" y2="207.69"/>
<line x1="52.13" y1="209.97" x2="53.38" y2="209.97"/>
<line x1="53.39" y1="211.84" x2="53.39" y2="213.28"/>
<line x1="53.39" y1="211.84" x2="55.00" y2="211.84"/>
<line x1="53.39" y1="213.28" x2="55.00" y2="213.28"/>
<line x1="53.21" y1="214.57" x2="53.21" y2="215.78"/>
<line x1="53.21" y1="214.57" x2="55.00" y2="214.57"/>
<line x1="53.21" y1="215.78" x2="55.00" y2="215.78"/>
<line x1="52.88" y1="218.14" x2="52.88" y2="219.34"/>
<line x1="52.88" y1="218.14" x2="55.00" y2="218.14"/>
<line x1="52.88" y1="219.34" x2="55.00" y2="219.34"/>
<line x1="53.62" y1="217.07" x2="53.62" y2="218.74"/>
<line x1="53.62" y1="217.07" x2="55.00" y2="217.07"/>
<line x1="53.62" y1="218.74" x2="52.88" y2="218.74"/>
<line x1="52.74" y1="215.17" x2="52.74" y2="217.91"/>
<line x1="52.74" y1="215.17" x2="53.21" y2="215.17"/>
<line x1="52.74" y1="217.91" x2="53.62" y2="217.91"/>
<line x1="51.50" y1="212.56" x2="51.50" y2="216.54"/>
<line x1="51.50" y1="212.56" x2="53.39" y2="212.56"/>
<line x1="51.50" y1="216.54" x2="52.74" y2="216.54"/>
<line x1="49.69" y1="208.83" x2="49.69" y2="214.55"/>
<line x1="49.69" y1="208.83" x2="52.13" y2="208.83"/>
<line x1="49.69" y1="214.55" x2="51.50" y2="214.55"/>
<line x1="52.28" y1="222.47" x2="52.28" y2="223.70"/>
<line x1="52.28" y1="222.47" x2="55.00" y2="222.47"/>
<line x1="52.28" y1="223.70" x2="55.00" y2="223.70"/>
<line x1="50.48" y1="223.09" x2="50.48" y2="225.17"/>
<line x1="50.48" y1="223.09" x2="52.28" y2="223.09"/>
<line x1="50.48" y1="225.17" x2="55.00" y2="225.17"/>
<line x1="49.64" y1="220.95" x2="49.64" y2="224.13"/>
<line x1="49.64" y1="220.95" x2="55.00" y2="220.95"/>
<line x1="49.64" y1="224.13" x2="50.48" y2="224.13"/>
<line x1="52.71" y1="226.70" x2="52.71" y2="227.89"/>
<line x1="52.71" y1="226.70" x2="55.00" y2="226.70"/>
<line x1="52.71" y1="227.89" x2="55.00" y2="227.89"/>
<line x1="51.84" y1="227.29" x2="51.84" y2="229.08"/>
<line x1="51.84" y1="227.29" x2="52.71" y2="227.29"/>
<line x1="51.84" y1="229.08" x2="55.00" y2="229.08"/>
<line x1="51.97" y1="230.48" x2="51.97" y2="231.59"/>
<line x1="51.97" y1="230.48" x2="55.00" y2="230.48"/>
<line x1="51.97" y1="231.59" x2="55.00" y2="231.59"/>
<line x1="50.17" y1="228.19" x2="50.17" y2="231.03"/>
<line x1="50.17" y1="228.19" x2="51.84" y2="228.19"/>
<line x1="50.17" y1="231.03" x2="51.97" y2="231.03"/>
<line x1="48.04" y1="222.54" x2="48.04" y2="229.61"/>
<line x1="48.04" y1="222.54" x2="49.64" y2="222.54"/>
<line x1="48.04" y1="229.61" x2="50.17" y2="229.61"/>
<line x1="46.00" y1="211.69" x2="46.00" y2="226.08"/>
<line x1="46.00" y1="211.69" x2="49.69" y2="211.69"/>
<line x1="46.00" y1="226.08" x2="48.04" y2="226.08"/>
<line x1="42.40" y1="178.70" x2="42.40" y2="220.50"/>
<line x1="42.40" y1="178.70" x2="44.30" y2="178.70"/>
<line x1="42.40" y1="220.50" x2="46.00" y2="220.50"/>
<line x1="51.15" y1="234.32" x2="51.15" y2="235.88"/>
<line x1="51.15" y1="234.32" x2="55.00" y2="234.32"/>
<line x1="51.15" y1="235.88" x2="55.00" y2="235.88"/>
<line x1="47.56" y1="232.85" x2="47.56" y2="235.10"/>
<line x1="47.56" y1="232.85" x2="55.00" y2="232.85"/>
<line x1="47.56" y1="235.10" x2="51.15" y2="235.10"/>
<line x1="51.16" y1="237.52" x2="51.16" y2="239.23"/>
<line x1="51.16" y1="237.52" x2="55.00" y2="237.52"/>
<line x1="51.16" y1="239.23" x2="55.00" y2="239.23"/>
<line x1="46.61" y1="238.37" x2="46.61" y2="241.22"/>
<line x1="46.61" y1="238.37" x2="51.16" y2="238.37"/>
<line x1="46.61" y1="241.22" x2="55.00" y2="241.22"/>
<line x1="44.30" y1="233.97" x2="44.30" y2="239.80"/>
<line x1="44.30" y1="233.97" x2="47.56" y2="233.97"/>
<line x1="44.30" y1="239.80" x2="46.61" y2="239.80"/>
<line x1="38.20" y1="199.60" x2="38.20" y2="238.60"/>
<line x1="38.20" y1="199.60" x2="42.40" y2="199.60"/>
<line x1="38.20" y1="238.60" x2="44.30" y2="238.60"/>
<line x1="19.20" y1="91.80" x2="19.20" y2="218.70"/>
<line x1="19.20" y1="91.80" x2="32.00" y2="91.80"/>
<line x1="19.20" y1="218.70" x2="38.20" y2="218.70"/>
</g>
<g stroke="#a0a0a0" stroke-width="0.8" fill="none">
<path d="M56.3,244.5 V248.3 H129.4 V244.5"/>
<path d="M133,244.5 V248.3 H206 V244.5"/>
</g>
<text x="95.0" y="260.1" font-size="8.25" font-style="italic" fill="#3a3a3a" text-anchor="middle">Vk*MYC:Wwox WT</text>
<text x="170.3" y="260.1" font-size="8.25" font-style="italic" fill="#3a3a3a" text-anchor="middle">Vk*MYC:Wwox KO</text>
<defs><linearGradient id="zg" x1="0" x2="1" y1="0" y2="0"><stop offset="0" stop-color="#1c1c7a"/><stop offset="0.22" stop-color="#5a5ab4"/><stop offset="0.5" stop-color="#ffffff"/><stop offset="0.78" stop-color="#f05050"/><stop offset="1" stop-color="#b80000"/></linearGradient></defs>
<rect x="184.9" y="267.1" width="22.1" height="9.6" fill="url(#zg)" stroke="#666" stroke-width="0.4"/>
<g stroke="#333" stroke-width="0.7"><line x1="185.30" y1="276.7" x2="185.30" y2="278.6"/><line x1="190.70" y1="276.7" x2="190.70" y2="278.6"/><line x1="196.10" y1="276.7" x2="196.10" y2="278.6"/><line x1="201.50" y1="276.7" x2="201.50" y2="278.6"/><line x1="206.90" y1="276.7" x2="206.90" y2="278.6"/></g>
<text x="183.5" y="289.0" font-size="8.4" fill="#1e1e1e" text-anchor="middle">−2</text>
<text x="196.2" y="289.0" font-size="8.4" fill="#1e1e1e" text-anchor="middle">0</text>
<text x="207.3" y="289.0" font-size="8.4" fill="#1e1e1e" text-anchor="middle">2</text>
<text x="196.4" y="300.2" font-size="8.3" fill="#2a2a2a" text-anchor="middle">Z Score</text>
<text x="7.0" y="17.4" font-size="12.0" font-weight="bold" fill="#111" style="stroke:#111;stroke-width:0.45px">A</text>
<text x="226.9" y="17.4" font-size="12.0" font-weight="bold" fill="#111" style="stroke:#111;stroke-width:0.45px">B</text>
<text x="6.8" y="328.9" font-size="12.0" font-weight="bold" fill="#111" style="stroke:#111;stroke-width:0.45px">C</text>
<text x="320.6" y="329.1" font-size="12.0" font-weight="bold" fill="#111" style="stroke:#111;stroke-width:0.45px">D</text>
<g fill="#134f86">
<rect x="392.80" y="67.40" width="115.10" height="6.8"/>
<rect x="392.80" y="79.40" width="110.40" height="6.8"/>
<rect x="392.80" y="91.40" width="99.90" height="6.8"/>
<rect x="392.80" y="103.40" width="90.20" height="6.8"/>
<rect x="392.80" y="115.40" width="81.10" height="6.8"/>
<rect x="392.80" y="127.40" width="73.10" height="6.8"/>
<rect x="392.80" y="139.40" width="69.20" height="6.8"/>
<rect x="392.80" y="151.40" width="64.30" height="6.8"/>
<rect x="392.80" y="163.40" width="53.50" height="6.8"/>
<rect x="392.80" y="175.40" width="46.00" height="6.8"/>
<rect x="392.80" y="187.40" width="46.00" height="6.8"/>
<rect x="392.80" y="199.40" width="46.00" height="6.8"/>
</g>
<g stroke="#222" stroke-width="0.9" fill="none">
<line x1="392.4" y1="56.8" x2="392.4" y2="206.4"/>
<line x1="392.4" y1="59.3" x2="512.8" y2="59.3"/>
<line x1="421.4" y1="56.8" x2="421.4" y2="59.3"/>
<line x1="451.7" y1="56.8" x2="451.7" y2="59.3"/>
<line x1="481.6" y1="56.8" x2="481.6" y2="59.3"/>
<line x1="509.6" y1="56.8" x2="509.6" y2="59.3"/>
<line x1="389" y1="70.80" x2="392.4" y2="70.80"/>
<line x1="389" y1="82.80" x2="392.4" y2="82.80"/>
<line x1="389" y1="94.80" x2="392.4" y2="94.80"/>
<line x1="389" y1="106.80" x2="392.4" y2="106.80"/>
<line x1="389" y1="118.80" x2="392.4" y2="118.80"/>
<line x1="389" y1="130.80" x2="392.4" y2="130.80"/>
<line x1="389" y1="142.80" x2="392.4" y2="142.80"/>
<line x1="389" y1="154.80" x2="392.4" y2="154.80"/>
<line x1="389" y1="166.80" x2="392.4" y2="166.80"/>
<line x1="389" y1="178.80" x2="392.4" y2="178.80"/>
<line x1="389" y1="190.80" x2="392.4" y2="190.80"/>
<line x1="389" y1="202.80" x2="392.4" y2="202.80"/>
</g>
<g font-size="8.0" fill="#262626" text-anchor="end" transform="translate(385.2,0)">
<text x="0" y="73.80">Cellular Compromise</text>
<text x="0" y="85.80">Cellular Function and Maintenance</text>
<text x="0" y="97.80">Cellular Growth and Proliferation</text>
<text x="0" y="109.80">Cell-To-Cell Signaling and Interaction</text>
<text x="0" y="121.80">Cellular Development</text>
<text x="0" y="133.80">Small Molecule Biochemistry</text>
<text x="0" y="145.80">Cell Morphology</text>
<text x="0" y="157.80">Cellular Movement</text>
<text x="0" y="169.80">Molecular Transport</text>
<text x="0" y="181.80">Cell Death and Survival</text>
<text x="0" y="193.80">Cellular Assembly and Organization</text>
<text x="0" y="205.80">Lipid Metabolism</text>
</g>
<path d="M252.60,94.15 H259.80 V92.40 L265.60,94.80 L259.80,97.20 V95.45 H252.60 Z" fill="#bc1646"/>
<path d="M237.80,106.15 H245.00 V104.40 L250.80,106.80 L245.00,109.20 V107.45 H237.80 Z" fill="#bc1646"/>
<path d="M302.40,154.15 H309.60 V152.40 L315.40,154.80 L309.60,157.20 V155.45 H302.40 Z" fill="#bc1646"/>
<path d="M286.00,178.15 H293.20 V176.40 L299.00,178.80 L293.20,181.20 V179.45 H286.00 Z" fill="#bc1646"/>
<g font-size="8.8" fill="#1e1e1e" text-anchor="middle">
<text x="392.2" y="51.7">0</text>
<text x="421.4" y="51.7">2</text>
<text x="451.7" y="51.7">4</text>
<text x="481.6" y="51.7">6</text>
<text x="509.6" y="51.7">8</text>
</g>
<text x="0" y="0" font-size="9.2" fill="#1e1e1e" text-anchor="middle" transform="translate(452.3,38.0) scale(0.78,1)">-log(<tspan font-style="italic">P</tspan>-value)</text>
<g fill="#134f86">
<rect x="170.90" y="370.40" width="128.90" height="6.2"/>
<rect x="170.90" y="382.39" width="110.80" height="6.2"/>
<rect x="170.90" y="394.38" width="110.80" height="6.2"/>
<rect x="170.90" y="406.37" width="110.80" height="6.2"/>
<rect x="170.90" y="418.36" width="106.00" height="6.2"/>
<rect x="170.90" y="430.35" width="94.50" height="6.2"/>
<rect x="170.90" y="442.34" width="86.60" height="6.2"/>
<rect x="170.90" y="454.33" width="84.90" height="6.2"/>
<rect x="170.90" y="466.32" width="78.20" height="6.2"/>
<rect x="170.90" y="478.31" width="72.60" height="6.2"/>
<rect x="170.90" y="490.30" width="72.60" height="6.2"/>
<rect x="170.90" y="502.29" width="68.90" height="6.2"/>
<rect x="170.90" y="514.28" width="60.70" height="6.2"/>
<rect x="170.90" y="526.27" width="60.10" height="6.2"/>
<rect x="170.90" y="538.26" width="54.00" height="6.2"/>
<rect x="170.90" y="550.25" width="51.40" height="6.2"/>
<rect x="170.90" y="562.24" width="50.00" height="6.2"/>
</g>
<g stroke="#222" stroke-width="0.9" fill="none">
<line x1="170.5" y1="359.9" x2="170.5" y2="571"/>
<line x1="170.5" y1="362.4" x2="304.2" y2="362.4"/>
<line x1="202.3" y1="359.9" x2="202.3" y2="362.4"/>
<line x1="237.4" y1="359.9" x2="237.4" y2="362.4"/>
<line x1="270.8" y1="359.9" x2="270.8" y2="362.4"/>
<line x1="300.8" y1="359.9" x2="300.8" y2="362.4"/>
<line x1="166.5" y1="373.50" x2="170.5" y2="373.50"/>
<line x1="166.5" y1="385.49" x2="170.5" y2="385.49"/>
<line x1="166.5" y1="397.48" x2="170.5" y2="397.48"/>
<line x1="166.5" y1="409.47" x2="170.5" y2="409.47"/>
<line x1="166.5" y1="421.46" x2="170.5" y2="421.46"/>
<line x1="166.5" y1="433.45" x2="170.5" y2="433.45"/>
<line x1="166.5" y1="445.44" x2="170.5" y2="445.44"/>
<line x1="166.5" y1="457.43" x2="170.5" y2="457.43"/>
<line x1="166.5" y1="469.42" x2="170.5" y2="469.42"/>
<line x1="166.5" y1="481.41" x2="170.5" y2="481.41"/>
<line x1="166.5" y1="493.40" x2="170.5" y2="493.40"/>
<line x1="166.5" y1="505.39" x2="170.5" y2="505.39"/>
<line x1="166.5" y1="517.38" x2="170.5" y2="517.38"/>
<line x1="166.5" y1="529.37" x2="170.5" y2="529.37"/>
<line x1="166.5" y1="541.36" x2="170.5" y2="541.36"/>
<line x1="166.5" y1="553.35" x2="170.5" y2="553.35"/>
<line x1="166.5" y1="565.34" x2="170.5" y2="565.34"/>
</g>
<g font-size="7.9" fill="#262626" text-anchor="end" transform="translate(163.4,0)">
<text x="0" y="376.10">Inflammatory Response</text>
<text x="0" y="388.09">Hematological Disease</text>
<text x="0" y="400.08">Hereditary Disorder</text>
<text x="0" y="412.07">Organismal Injury and Abnormalities</text>
<text x="0" y="424.06">Developmental Disorder</text>
<text x="0" y="436.05">Respiratory Disease</text>
<text x="0" y="448.04">Connective Tissue Disorders</text>
<text x="0" y="460.03">Cardiovascular Disease</text>
<text x="0" y="472.02">Neurological Disease</text>
<text x="0" y="484.01">Dermatological Diseases and Conditions</text>
<text x="0" y="496.00">Inflammatory Disease</text>
<text x="0" y="507.99">Immunological Disease</text>
<text x="0" y="519.98">Psychological Disorders</text>
<text x="0" y="531.97">Reproductive System Disease</text>
<text x="0" y="543.96">Ophthalmic Disease</text>
<text x="0" y="555.95">Gastrointestinal Disease</text>
<text x="0" y="567.94">Cancer</text>
</g>
<g font-size="8.8" fill="#1e1e1e" text-anchor="middle">
<text x="170.3" y="354.2">0</text>
<text x="202.3" y="354.2">2</text>
<text x="237.4" y="354.2">4</text>
<text x="270.8" y="354.2">6</text>
<text x="300.8" y="354.2">8</text>
</g>
<path d="M63.90,372.85 H71.10 V371.10 L76.90,373.50 L71.10,375.90 V374.15 H63.90 Z" fill="#bc1646"/>
<path d="M66.10,384.84 H73.30 V383.09 L79.10,385.49 L73.30,387.89 V386.14 H66.10 Z" fill="#bc1646"/>
<path d="M70.90,492.75 H78.10 V491.00 L83.90,493.40 L78.10,495.80 V494.05 H70.90 Z" fill="#bc1646"/>
<path d="M121.30,564.69 H128.50 V562.94 L134.30,565.34 L128.50,567.74 V565.99 H121.30 Z" fill="#bc1646"/>
<text x="0" y="0" font-size="9.2" fill="#1e1e1e" text-anchor="middle" transform="translate(237.1,340.4) scale(0.78,1)">-log(<tspan font-style="italic">P</tspan>-value)</text>
<g fill="#34a4dc">
<rect x="433.60" y="336.90" width="32.70" height="8.9"/>
<rect x="433.60" y="351.12" width="32.70" height="8.9"/>
<rect x="433.60" y="365.34" width="32.70" height="8.9"/>
<rect x="433.60" y="379.56" width="29.30" height="8.9"/>
<rect x="433.60" y="393.78" width="28.10" height="8.9"/>
<rect x="433.60" y="408.00" width="26.80" height="8.9"/>
<rect x="433.60" y="422.22" width="25.80" height="8.9"/>
<rect x="433.60" y="436.44" width="25.60" height="8.9"/>
<rect x="433.60" y="450.66" width="25.00" height="8.9"/>
<rect x="433.60" y="464.88" width="24.60" height="8.9"/>
<rect x="433.60" y="479.10" width="24.60" height="8.9"/>
<rect x="406.60" y="493.32" width="26.40" height="8.9"/>
<rect x="406.10" y="507.54" width="26.90" height="8.9"/>
<rect x="405.60" y="521.76" width="27.40" height="8.9"/>
</g>
<g stroke="#222" stroke-width="0.9" fill="none">
<line x1="392.5" y1="332" x2="392.5" y2="535.6"/>
<line x1="392.5" y1="535.6" x2="476.9" y2="535.6"/>
<line x1="433.3" y1="332.3" x2="433.3" y2="535.6"/>
<line x1="392.3" y1="535.6" x2="392.3" y2="538.6"/>
<line x1="405.8" y1="535.6" x2="405.8" y2="538.6"/>
<line x1="419.1" y1="535.6" x2="419.1" y2="538.6"/>
<line x1="432.9" y1="535.6" x2="432.9" y2="538.6"/>
<line x1="446.2" y1="535.6" x2="446.2" y2="538.6"/>
<line x1="460.0" y1="535.6" x2="460.0" y2="538.6"/>
<line x1="474.1" y1="535.6" x2="474.1" y2="538.6"/>
<line x1="389.2" y1="341.35" x2="392.5" y2="341.35"/>
<line x1="389.2" y1="355.57" x2="392.5" y2="355.57"/>
<line x1="389.2" y1="369.79" x2="392.5" y2="369.79"/>
<line x1="389.2" y1="384.01" x2="392.5" y2="384.01"/>
<line x1="389.2" y1="398.23" x2="392.5" y2="398.23"/>
<line x1="389.2" y1="412.45" x2="392.5" y2="412.45"/>
<line x1="389.2" y1="426.67" x2="392.5" y2="426.67"/>
<line x1="389.2" y1="440.89" x2="392.5" y2="440.89"/>
<line x1="389.2" y1="455.11" x2="392.5" y2="455.11"/>
<line x1="389.2" y1="469.33" x2="392.5" y2="469.33"/>
<line x1="389.2" y1="483.55" x2="392.5" y2="483.55"/>
<line x1="389.2" y1="497.77" x2="392.5" y2="497.77"/>
<line x1="389.2" y1="511.99" x2="392.5" y2="511.99"/>
<line x1="389.2" y1="526.21" x2="392.5" y2="526.21"/>
</g>
<g font-size="7.9" fill="#262626" text-anchor="end" transform="translate(386.0,0)">
<text x="0" y="344.25">Tnf</text>
<text x="0" y="358.47">Nfkb (complex)</text>
<text x="0" y="372.69">Stat5a/b</text>
<text x="0" y="386.91">Il6</text>
<text x="0" y="401.13">Tgfb1</text>
<text x="0" y="415.35">Cg (complex)</text>
<text x="0" y="429.57">Mapk</text>
<text x="0" y="443.79">Tp73</text>
<text x="0" y="458.01">Nfkbia</text>
<text x="0" y="472.23">Tgfb</text>
<text x="0" y="486.45">Igf1</text>
<text x="0" y="500.67">Runx1</text>
<text x="0" y="514.89">Erg</text>
<text x="0" y="529.11">Gata1</text>
</g>
<g font-size="8.8" fill="#1e1e1e" text-anchor="middle">
<text x="392.3" y="549.5">−3</text>
<text x="405.8" y="549.5">−2</text>
<text x="419.1" y="549.5">−1</text>
<text x="432.9" y="549.5">0</text>
<text x="446.2" y="549.5">1</text>
<text x="460.0" y="549.5">2</text>
<text x="474.1" y="549.5">3</text>
</g>
<text x="0" y="0" font-size="8.8" fill="#1e1e1e" text-anchor="middle" transform="translate(434.9,562.8) scale(0.775,1)">Z score</text>
<g id="arrows"></g>
</svg>
<div class="frame"></div>
</body></html>
